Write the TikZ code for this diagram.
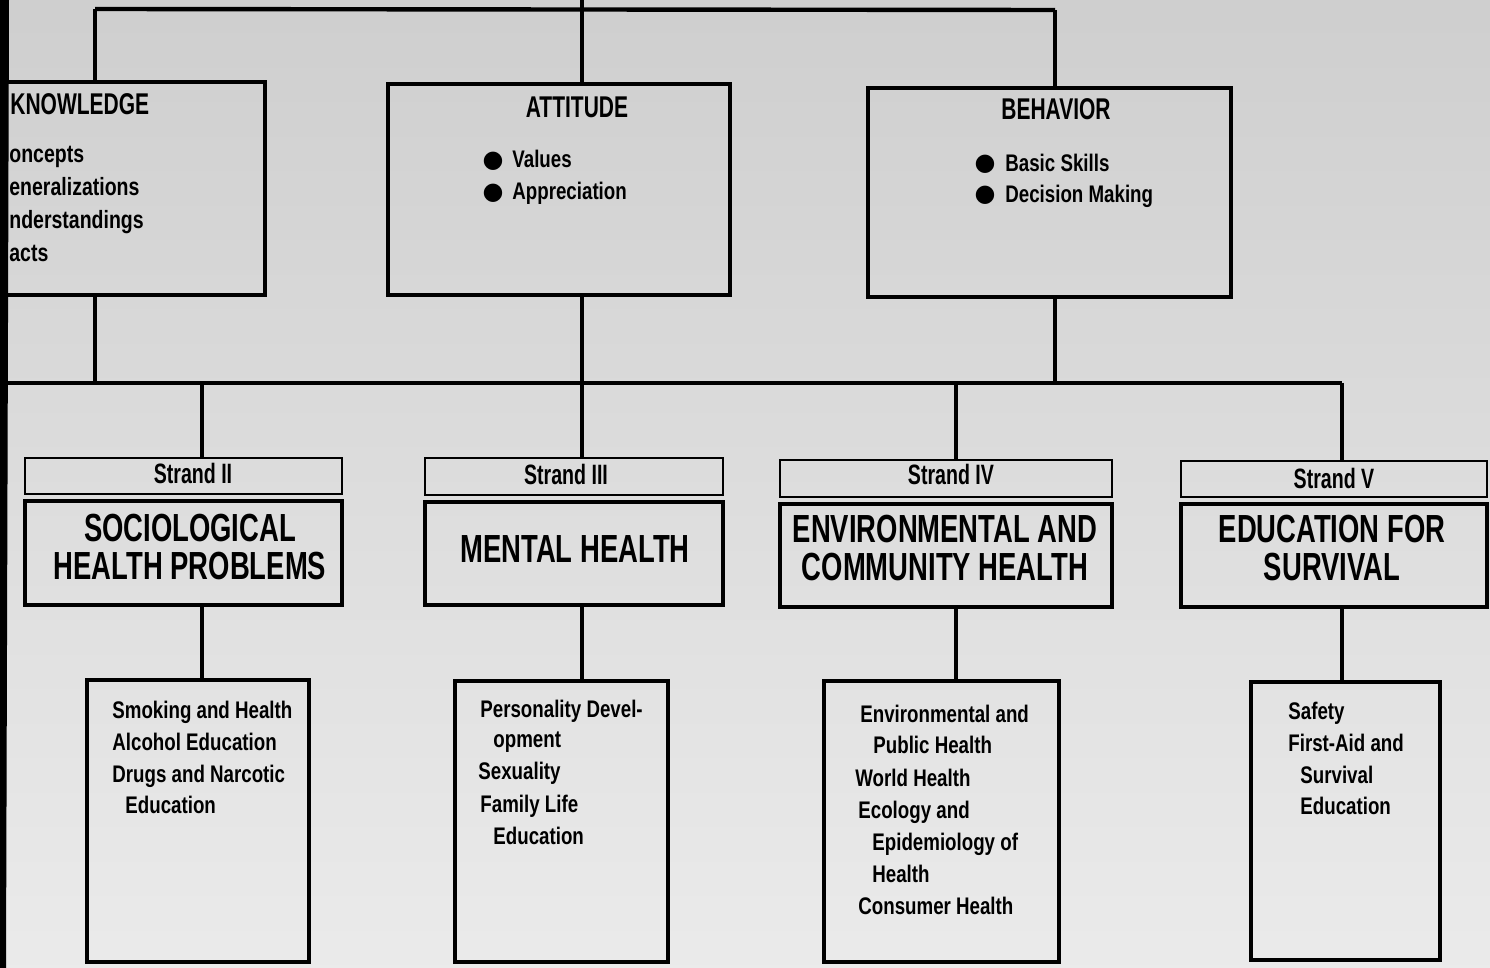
\documentclass[tikz,border=0pt]{standalone}
\usepackage{fontspec}
\setmainfont{Liberation Sans}[FakeStretch=0.7]
\newfontfamily\itemfont{Liberation Sans}[FakeStretch=0.78]
\newfontfamily\dvfont{DejaVu Sans}
\usetikzlibrary{fit}
\begin{document}
\begin{tikzpicture}[x=0.5pt,y=-0.5pt,
  bx/.style={draw=black, line width=2.1pt, inner sep=0pt},
  hb/.style={draw=black, line width=1.4pt, inner sep=0pt},
  ln/.style={draw=black, line width=1.6pt},
  ttl/.style={font=\bfseries\fontsize{15}{17}\selectfont, inner sep=0pt, anchor=base},
  big/.style={font=\bfseries\fontsize{19.6}{21}\selectfont, inner sep=0pt, anchor=base},
  strand/.style={font=\bfseries\fontsize{14}{16}\selectfont, inner sep=0pt, anchor=base},
  itm/.style={font=\itemfont\bfseries\fontsize{12}{14}\selectfont, inner sep=0pt, anchor=base west},
  bul/.style={font=\dvfont\fontsize{12}{14}\selectfont, inner sep=0pt, anchor=center},
]
\useasboundingbox (0,0) rectangle (1490,968);
\clip (0,0) rectangle (1490,968);
\shade[top color=black!19, bottom color=black!8] (0,0) rectangle (1490,968);

% ---- top row boxes
\node[bx, fit={(-20,82) (265,295)}] (know) {};
\node[bx, fit={(388,84) (730,295)}] (att) {};
\node[bx, fit={(868,88) (1231,297)}] (beh) {};

% ---- strand boxes
\node[hb, fit={(25,458) (342,494)}] (s2h) {};
\node[bx, fit={(25,501) (342,605)}] (s2) {};
\node[hb, fit={(425,458) (723,495)}] (s3h) {};
\node[bx, fit={(425,502) (723,605)}] (s3) {};
\node[hb, fit={(780,460) (1112,497)}] (s4h) {};
\node[bx, fit={(780,504) (1112,607)}] (s4) {};
\node[hb, fit={(1181,461) (1487,497)}] (s5h) {};
\node[bx, fit={(1181,504) (1487,607)}] (s5) {};

% ---- bottom boxes
\node[bx, fit={(87,680) (309,962)}] (b2) {};
\node[bx, fit={(455,681) (668,962)}] (b3) {};
\node[bx, fit={(824,681) (1059,962)}] (b4) {};
\node[bx, fit={(1251,682) (1440,960)}] (b5) {};

% ---- connectors
\coordinate (tL) at (95,9);
\coordinate (tR) at (1055,10);
\coordinate (tA) at (582,0);
\coordinate (mL) at (0,383);
\coordinate (mR) at (1342,383);
\coordinate (d2) at (202,383);
\coordinate (d4) at (956,383);
\draw[ln, line width=2.2pt] (tL) -- (tR);
\draw[ln] (tL) -- (tL |- know.north);
\draw[ln] (tA) -- (tA |- att.north);
\draw[ln] (tR) -- (tR |- beh.north);
\draw[ln, line width=2pt] (mL) -- (mR);
\draw[ln] (tL |- know.south) -- (tL |- mL);
\draw[ln] (tA |- att.south) -- (tA |- s3h.north);
\draw[ln] (tR |- beh.south) -- (tR |- mL);
\draw[ln] (d2) -- (d2 |- s2h.north);
\draw[ln] (d4) -- (d4 |- s4h.north);
\draw[ln] (mR) -- (mR |- s5h.north);
\draw[ln] (d2 |- s2.south) -- (d2 |- b2.north);
\draw[ln] (tA |- s3.south) -- (tA |- b3.north);
\draw[ln] (d4 |- s4.south) -- (d4 |- b4.north);
\draw[ln] (mR |- s5.south) -- (mR |- b5.north);

% ---- top row texts
\node[ttl, anchor=base west] (kt) at (10,115) {KNOWLEDGE};
\node[itm, font=\itemfont\bfseries\fontsize{12.5}{14}\selectfont] (k1) at (9,163) {oncepts};
\node[itm, font=\itemfont\bfseries\fontsize{12.5}{14}\selectfont] (k2) at (9,196) {eneralizations};
\node[itm, font=\itemfont\bfseries\fontsize{12.5}{14}\selectfont] (k3) at (9,229) {nderstandings};
\node[itm, font=\itemfont\bfseries\fontsize{12.5}{14}\selectfont] (k4) at (9,262) {acts};

\node[ttl] (atl) at (577,118) {ATTITUDE};
\node[bul] (ab1) at (493,161) {●};
\node[bul] (ab2) at (493,193) {●};
\node[itm] (a1) at (512,168) {Values};
\node[itm] (a2) at (512,200) {Appreciation};

\node[ttl] (btl) at (1056,120) {BEHAVIOR};
\node[bul] (bb1) at (985,164) {●};
\node[bul] (bb2) at (985,195) {●};
\node[itm] (be1) at (1005,172) {Basic Skills};
\node[itm] (be2) at (1005,203) {Decision Making};

% ---- strand texts
\node[strand] (s2t) at (193,483) {Strand II};
\node[big] (s2a) at (190,541) {SOCIOLOGICAL};
\node[big] (s2b) at (190,579) {HEALTH PROBLEMS};

\node[strand] (s3t) at (566,485) {Strand III};
\node[big] (s3a) at (575,562) {MENTAL HEALTH};

\node[strand] (s4t) at (951,485) {Strand IV};
\node[big] (s4a) at (945,542) {ENVIRONMENTAL AND};
\node[big] (s4b) at (945,580) {COMMUNITY HEALTH};

\node[strand] (s5t) at (1334,488) {Strand V};
\node[big] (s5a) at (1332,542) {EDUCATION FOR};
\node[big] (s5b) at (1332,580) {SURVIVAL};

% ---- bottom box texts
\node[itm] (p1) at (112,718) {Smoking and Health};
\node[itm] (p2) at (112,750) {Alcohol Education};
\node[itm] (p3) at (112,782) {Drugs and Narcotic};
\node[itm] (p4) at (125,813) {Education};

\node[itm] (q1) at (480,717) {Personality Devel-};
\node[itm] (q2) at (493,747) {opment};
\node[itm] (q3) at (478,779) {Sexuality};
\node[itm] (q4) at (480,812) {Family Life};
\node[itm] (q5) at (493,844) {Education};

\node[itm] (r1) at (860,722) {Environmental and};
\node[itm] (r2) at (873,753) {Public Health};
\node[itm] (r3) at (855,786) {World Health};
\node[itm] (r4) at (858,818) {Ecology and};
\node[itm] (r5) at (872,850) {Epidemiology of};
\node[itm] (r6) at (872,882) {Health};
\node[itm] (r7) at (858,914) {Consumer Health};

\node[itm] (u1) at (1288,719) {Safety};
\node[itm] (u2) at (1288,751) {First-Aid and};
\node[itm] (u3) at (1300,783) {Survival};
\node[itm] (u4) at (1300,814) {Education};

% ---- scan edge at the left
\fill[black] (0,0) -- (9,0) -- (6,968) -- (0,968) -- cycle;
\end{tikzpicture}
\end{document}
